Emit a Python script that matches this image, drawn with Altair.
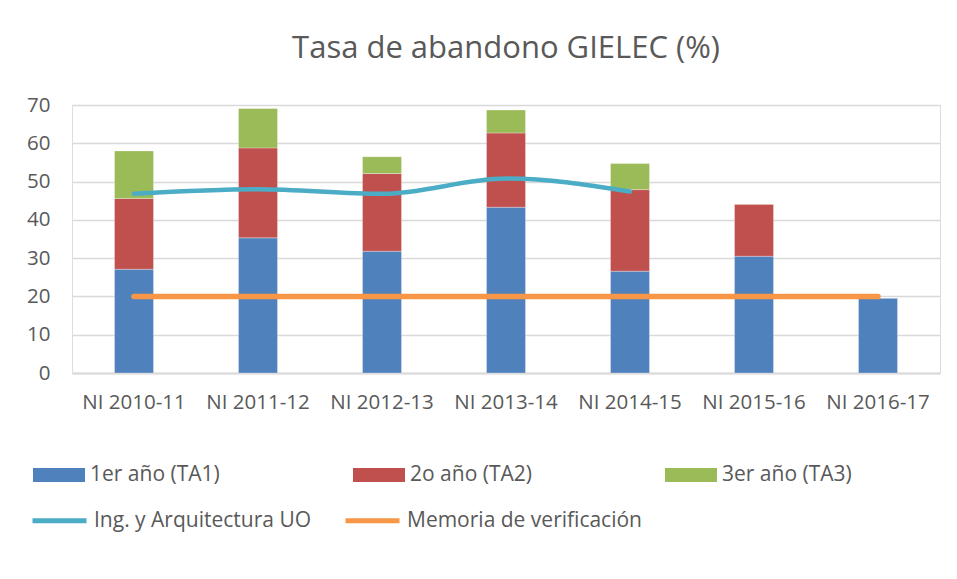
import altair as alt
import pandas as pd

categories = ["NI 2010-11", "NI 2011-12", "NI 2012-13", "NI 2013-14",
              "NI 2014-15", "NI 2015-16", "NI 2016-17"]
ta1 = [27.1, 35.3, 31.8, 43.3, 26.6, 30.5, 19.6]
ta2 = [18.5, 23.5, 20.3, 19.4, 21.3, 13.6, 0.0]
ta3 = [12.4, 10.3, 4.4, 6.0, 6.8, 0.0, 0.0]
ing_uo = [46.8, 48.0, 46.8, 50.8, 47.4]
memoria = [20, 20, 20, 20, 20, 20, 20]
y_ticks = [0, 10, 20, 30, 40, 50, 60, 70]

bar_series = ["1er año (TA1)", "2o año (TA2)", "3er año (TA3)"]
bar_colors = ["#4F81BD", "#C0504D", "#9BBB59"]
line_series = ["Ing. y Arquitectura UO", "Memoria de verificación"]
line_colors = ["#4BACC6", "#F79646"]

rows = []
for k, (name, vals) in enumerate(zip(bar_series, [ta1, ta2, ta3])):
    for c, v in zip(categories, vals):
        rows.append({"cat": c, "serie": name, "valor": v, "orden": k})
bars_df = pd.DataFrame(rows)

lrows = []
for c, v in zip(categories[:len(ing_uo)], ing_uo):
    lrows.append({"cat": c, "serie": line_series[0], "valor": v})
lines_uo = pd.DataFrame(lrows)
lines_mem = pd.DataFrame({"cat": categories, "serie": line_series[1], "valor": memoria})

FONT = "Open Sans"
LFONT = "Open Sans"
TXT = "#595959"

x_enc = alt.X("cat:N", sort=categories, title=None,
              scale=alt.Scale(type="band", paddingInner=0, paddingOuter=0),
              axis=alt.Axis(labelAngle=0, labelFont=FONT, labelFontSize=20.5,
                            labelColor=TXT, labelPadding=19, ticks=False,
                            domainColor="#D9D9D9", domainWidth=2, grid=False))
y_scale = alt.Scale(domain=[0, 70])
y_axis = alt.Axis(values=y_ticks, labelFont=FONT,
                  labelFontSize=20.5, labelColor=TXT, labelPadding=22,
                  ticks=False, domain=False, gridColor="#D9D9D9", gridWidth=1.3)

bars = alt.Chart(bars_df).mark_bar(size=39, stroke="#FFFFFF", strokeWidth=0.6,
                                   strokeOpacity=0.5).encode(
    x=x_enc,
    y=alt.Y("sum(valor):Q", scale=y_scale, axis=y_axis, title=None),
    color=alt.Color("serie:N", scale=alt.Scale(domain=bar_series, range=bar_colors),
                    legend=alt.Legend(title=None, orient="none", legendX=-39, legendY=344,
                                      direction="horizontal", columns=3, columnPadding=133,
                                      symbolType="M-1,-0.27H1V0.27H-1Z", symbolSize=2704,
                                      symbolStrokeWidth=0, symbolOffset=0, labelOffset=5,
                                      labelFont=LFONT, labelFontSize=21, labelColor=TXT,
                                      padding=0, labelLimit=400)),
    order=alt.Order("orden:Q", sort="ascending"),
)

stroke_scale = alt.Scale(domain=line_series, range=line_colors)
line_legend = alt.Legend(title=None, orient="none", legendX=-42, legendY=386,
                         direction="horizontal", columns=2, columnPadding=23,
                         symbolType="stroke", symbolSize=2916, symbolStrokeWidth=5,
                         symbolOffset=0, labelOffset=5, labelFont=LFONT,
                         labelFontSize=21, labelColor=TXT, padding=0, labelLimit=400)

line_uo = alt.Chart(lines_uo).mark_line(strokeWidth=4.5, interpolate="monotone",
                                        strokeCap="round").encode(
    x=alt.X("cat:N", sort=categories),
    y=alt.Y("valor:Q", scale=y_scale, axis=y_axis, title=None),
    stroke=alt.Stroke("serie:N", scale=stroke_scale, legend=line_legend),
)
line_mem = alt.Chart(lines_mem).mark_line(strokeWidth=5.5, strokeCap="round").encode(
    x=alt.X("cat:N", sort=categories),
    y=alt.Y("valor:Q", scale=y_scale, axis=y_axis, title=None),
    stroke=alt.Stroke("serie:N", scale=stroke_scale, legend=line_legend),
)

chart = alt.layer(bars, line_uo, line_mem).properties(
    width=868, height=268,
    title=alt.Title("Tasa de abandono GIELEC (%)", font=FONT, fontSize=31,
                    fontWeight="normal", color=TXT, offset=30, anchor="middle"),
    autosize=alt.AutoSizeParams(type="none"),
    padding={"left": 64, "top": 97, "right": 5, "bottom": 190},
).configure_view(stroke=None).configure(background="white")

chart.save("out.html", embed_options={"renderer": "svg", "actions": False})
